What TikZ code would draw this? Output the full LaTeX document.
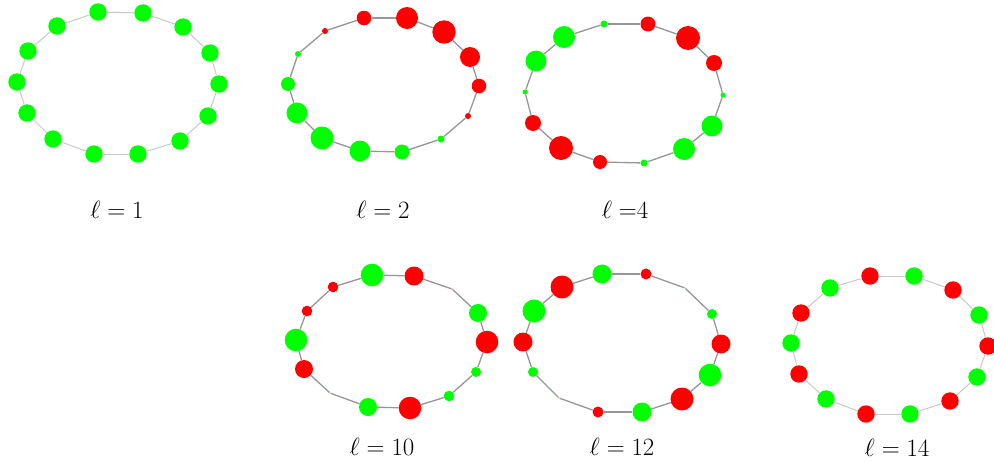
\documentclass[tikz,border=0pt]{standalone}
\usepackage{amsmath}
\definecolor{gn}{RGB}{0,255,0}
\definecolor{rd}{RGB}{255,0,0}
\definecolor{lightedge}{RGB}{200,200,200}
\definecolor{darkedge}{RGB}{150,150,150}

\begin{document}
\begin{tikzpicture}[x=1pt, y=-1pt,
    dot/.style={circle, inner sep=0pt, draw=none},
    thinring/.style={draw=lightedge, line width=1pt},
    thickring/.style={draw=darkedge, line width=1.3pt},
    lab/.style={font=\fontsize{25}{30}\selectfont}]
    \useasboundingbox (0,0) rectangle (994,461);
    % l = 1
    \foreach [count=\i] \px/\py/\rr/\cc in {98/12/8.7/gn, 143/13/8.7/gn, 183/27/8.7/gn, 210/53/8.7/gn,
        219/84/8.7/gn, 208/116/8.7/gn, 180/141/8.7/gn, 138/154/8.7/gn, 94/154/8.7/gn, 53/139/8.7/gn,
        27/113/8.7/gn, 17/82/8.7/gn, 28/51/8.7/gn, 57/26/8.7/gn}
        \node[dot, fill=\cc, minimum size=2*\rr pt] (a\i) at (\px,\py) {};
    \foreach \i [evaluate=\i as \j using {int(mod(\i,14)+1)}] in {1,...,14}
        \draw[thinring] (a\i) -- (a\j);
    % l = 2
    \foreach [count=\i] \px/\py/\rr/\cc in {364/18/7.3/rd, 407/18/11/rd, 444/32/11.7/rd, 470/57/10/rd,
        479/86/7.3/rd, 468/116/3/rd, 441/139/3.5/gn, 402/152/7.5/gn, 360/151/10.5/gn, 322/138/11.5/gn,
        297/113/10.5/gn, 288/84/7/gn, 298/54/3/gn, 325/31/3/rd}
        \node[dot, fill=\cc, minimum size=2*\rr pt] (b\i) at (\px,\py) {};
    \foreach \i [evaluate=\i as \j using {int(mod(\i,14)+1)}] in {1,...,14}
        \draw[thickring] (b\i) -- (b\j);
    % l = 4
    \foreach [count=\i] \px/\py/\rr/\cc in {604/24/3.5/gn, 648/24/7.5/rd, 688/38/12/rd, 714/63/8/rd,
        723/95/2.5/gn, 712/126/10.5/gn, 684/149/11/gn, 644/163/3.5/gn, 600/162/7/rd, 561/148/12/rd,
        533/123/8/rd, 525/92/2.5/gn, 536/61/10.5/gn, 564/37/11/gn}
        \node[dot, fill=\cc, minimum size=2*\rr pt] (c\i) at (\px,\py) {};
    \foreach \i [evaluate=\i as \j using {int(mod(\i,14)+1)}] in {1,...,14}
        \draw[thickring] (c\i) -- (c\j);
    % l = 10
    \foreach [count=\i] \px/\py/\rr/\cc in {372/275/11.3/gn, 414/276/9.5/rd, 452/289/0.6/rd, 478/313/9/gn,
        487/342/11.3/rd, 476/372/5/gn, 449/396/5.3/gn, 410/408/11.3/rd, 368/407/9/gn, 330/393/0.6/gn,
        304/369/9/rd, 296/340/11.3/gn, 307/311/5.3/rd, 333/287/5.3/rd}
        \node[dot, fill=\cc, minimum size=2*\rr pt] (d\i) at (\px,\py) {};
    \foreach \i [evaluate=\i as \j using {int(mod(\i,14)+1)}] in {1,...,14}
        \draw[thickring] (d\i) -- (d\j);
    % l = 12
    \foreach [count=\i] \px/\py/\rr/\cc in {602/274/9.5/gn, 646/274/5.5/rd, 685/288/0.6/gn, 712/314/5/gn,
        721/344/9.5/rd, 710/375/11.3/gn, 682/399/11.5/rd, 642/412/9.5/gn, 598/412/5.5/rd, 559/398/0.6/gn,
        533/372/5/gn, 523/342/9.5/rd, 534/311/11.5/gn, 562/287/11.5/rd}
        \node[dot, fill=\cc, minimum size=2*\rr pt] (e\i) at (\px,\py) {};
    \foreach \i [evaluate=\i as \j using {int(mod(\i,14)+1)}] in {1,...,14}
        \draw[thickring] (e\i) -- (e\j);
    % l = 14
    \foreach [count=\i] \px/\py/\rr/\cc in {870/276/8.7/rd, 914/276/8.7/gn, 953/290/8.7/rd, 979/315/8.7/gn,
        988/346/8.7/rd, 977/377/8.7/gn, 950/401/8.7/rd, 910/414/8.7/gn, 866/414/8.7/rd, 826/399/8.7/gn,
        799/374/8.7/rd, 791/343/8.7/gn, 801/313/8.7/rd, 830/288/8.7/gn}
        \node[dot, fill=\cc, minimum size=2*\rr pt] (f\i) at (\px,\py) {};
    \foreach \i [evaluate=\i as \j using {int(mod(\i,14)+1)}] in {1,...,14}
        \draw[thinring] (f\i) -- (f\j);
    % labels
    \node[lab] (la) at (117,210) {$\ell = 1$};
    \node[lab] (lb) at (383,210) {$\ell = 2$};
    \node[lab] (lc) at (625,210) {$\ell\;{=}4$};
    \node[lab] (ld) at (382,447) {$\ell = 10$};
    \node[lab] (le) at (622,447) {$\ell = 12$};
    \node[lab] (lf) at (897,448) {$\ell = 14$};
\end{tikzpicture}
\end{document}
